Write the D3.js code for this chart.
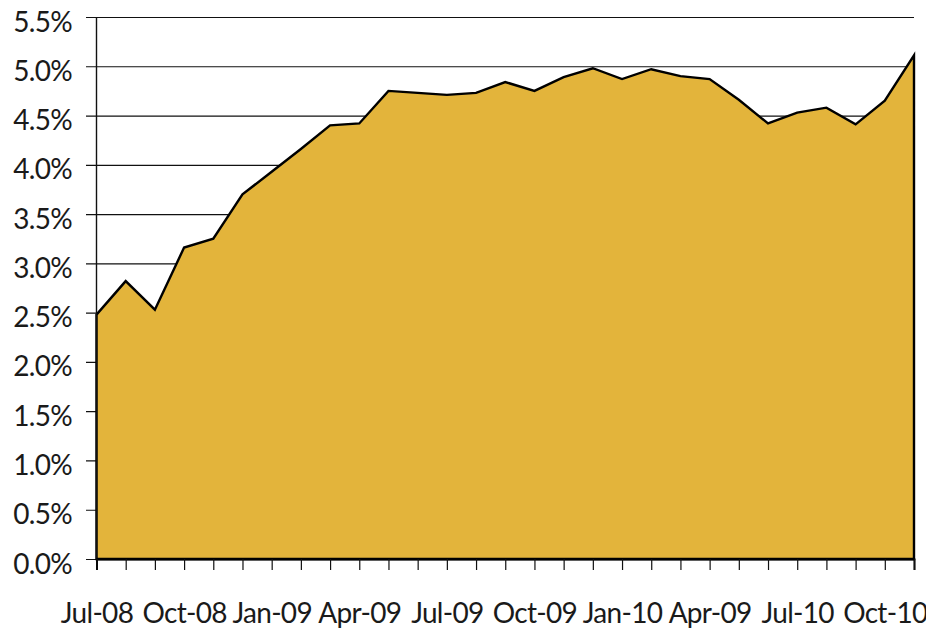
<!DOCTYPE html>
<html>
<head>
<meta charset="utf-8">
<script src="https://cdn.jsdelivr.net/npm/d3@7"></script>
<style>
  html, body { margin: 0; padding: 0; background: #fff; }
  svg { display: block; }
</style>
</head>
<body>
<svg id="chart" width="926" height="630"></svg>
<script>
// ---- data ----
const months = ["Jul-08","Aug-08","Sep-08","Oct-08","Nov-08","Dec-08",
                "Jan-09","Feb-09","Mar-09","Apr-09","May-09","Jun-09",
                "Jul-09","Aug-09","Sep-09","Oct-09","Nov-09","Dec-09",
                "Jan-10","Feb-10","Mar-10","Apr-10","May-10","Jun-10",
                "Jul-10","Aug-10","Sep-10","Oct-10","Nov-10"];
const rates = [2.48, 2.82, 2.53, 3.16, 3.25, 3.70, 3.93, 4.16, 4.40, 4.42,
               4.75, 4.73, 4.71, 4.73, 4.84, 4.75, 4.89, 4.98, 4.87, 4.97,
               4.90, 4.87, 4.66, 4.42, 4.53, 4.58, 4.41, 4.65, 5.11];
const xTickLabels = ["Jul-08","Oct-08","Jan-09","Apr-09","Jul-09","Oct-09",
                     "Jan-10","Apr-09","Jul-10","Oct-10"];
const yTicks = [0, 0.5, 1.0, 1.5, 2.0, 2.5, 3.0, 3.5, 4.0, 4.5, 5.0, 5.5];

// ---- layout ----
const plotL = 96.5, plotR = 914, plotT = 17, plotB = 559;
const font = "Lato, 'Open Sans', sans-serif";
const fs = 28;
const ls = -0.7;

const svg = d3.select("#chart");
const x = d3.scalePoint().domain(months).range([plotL, plotR]);
const y = d3.scaleLinear().domain([0, 5.5]).range([plotB, plotT]);

// gridlines + y labels
const gy = svg.append("g")
  .attr("transform", `translate(${plotR},0)`)
  .call(d3.axisLeft(y).tickValues(yTicks).tickSize(plotR - 86)
        .tickPadding(14).tickFormat(d => d.toFixed(1) + "%"));
gy.select(".domain").remove();
gy.selectAll(".tick line").attr("stroke", "#111").attr("stroke-width", 1.2);
gy.selectAll(".tick text")
  .attr("font-family", font).attr("font-size", fs).attr("fill", "#1a1a1a")
  .attr("letter-spacing", ls)
  .attr("dy", null).attr("y", 14);

// area
const area = d3.area()
  .x((d, i) => x(months[i]))
  .y0(y(0))
  .y1(d => y(d));
svg.append("path")
  .datum(rates)
  .attr("d", area)
  .attr("fill", "#E3B43B")
  .attr("stroke", "#000")
  .attr("stroke-width", 2.4)
  .attr("stroke-linejoin", "miter");

// left axis line
svg.append("line")
  .attr("x1", plotL).attr("x2", plotL).attr("y1", plotT).attr("y2", plotB)
  .attr("stroke", "#111").attr("stroke-width", 1.4);

// x axis
const gx = svg.append("g")
  .attr("transform", `translate(0,${plotB})`)
  .call(d3.axisBottom(x).tickValues(months).tickSize(11)
        .tickFormat((d, i) => (i % 3 === 0 ? xTickLabels[i / 3] : "")));
gx.select(".domain").attr("stroke", "#000").attr("stroke-width", 2);
gx.selectAll(".tick line").attr("stroke", "#111").attr("stroke-width", 1.2);
gx.selectAll(".tick text")
  .attr("font-family", font).attr("font-size", fs).attr("fill", "#1a1a1a")
  .attr("letter-spacing", ls)
  .attr("dy", null).attr("y", 64);
</script>
</body>
</html>
